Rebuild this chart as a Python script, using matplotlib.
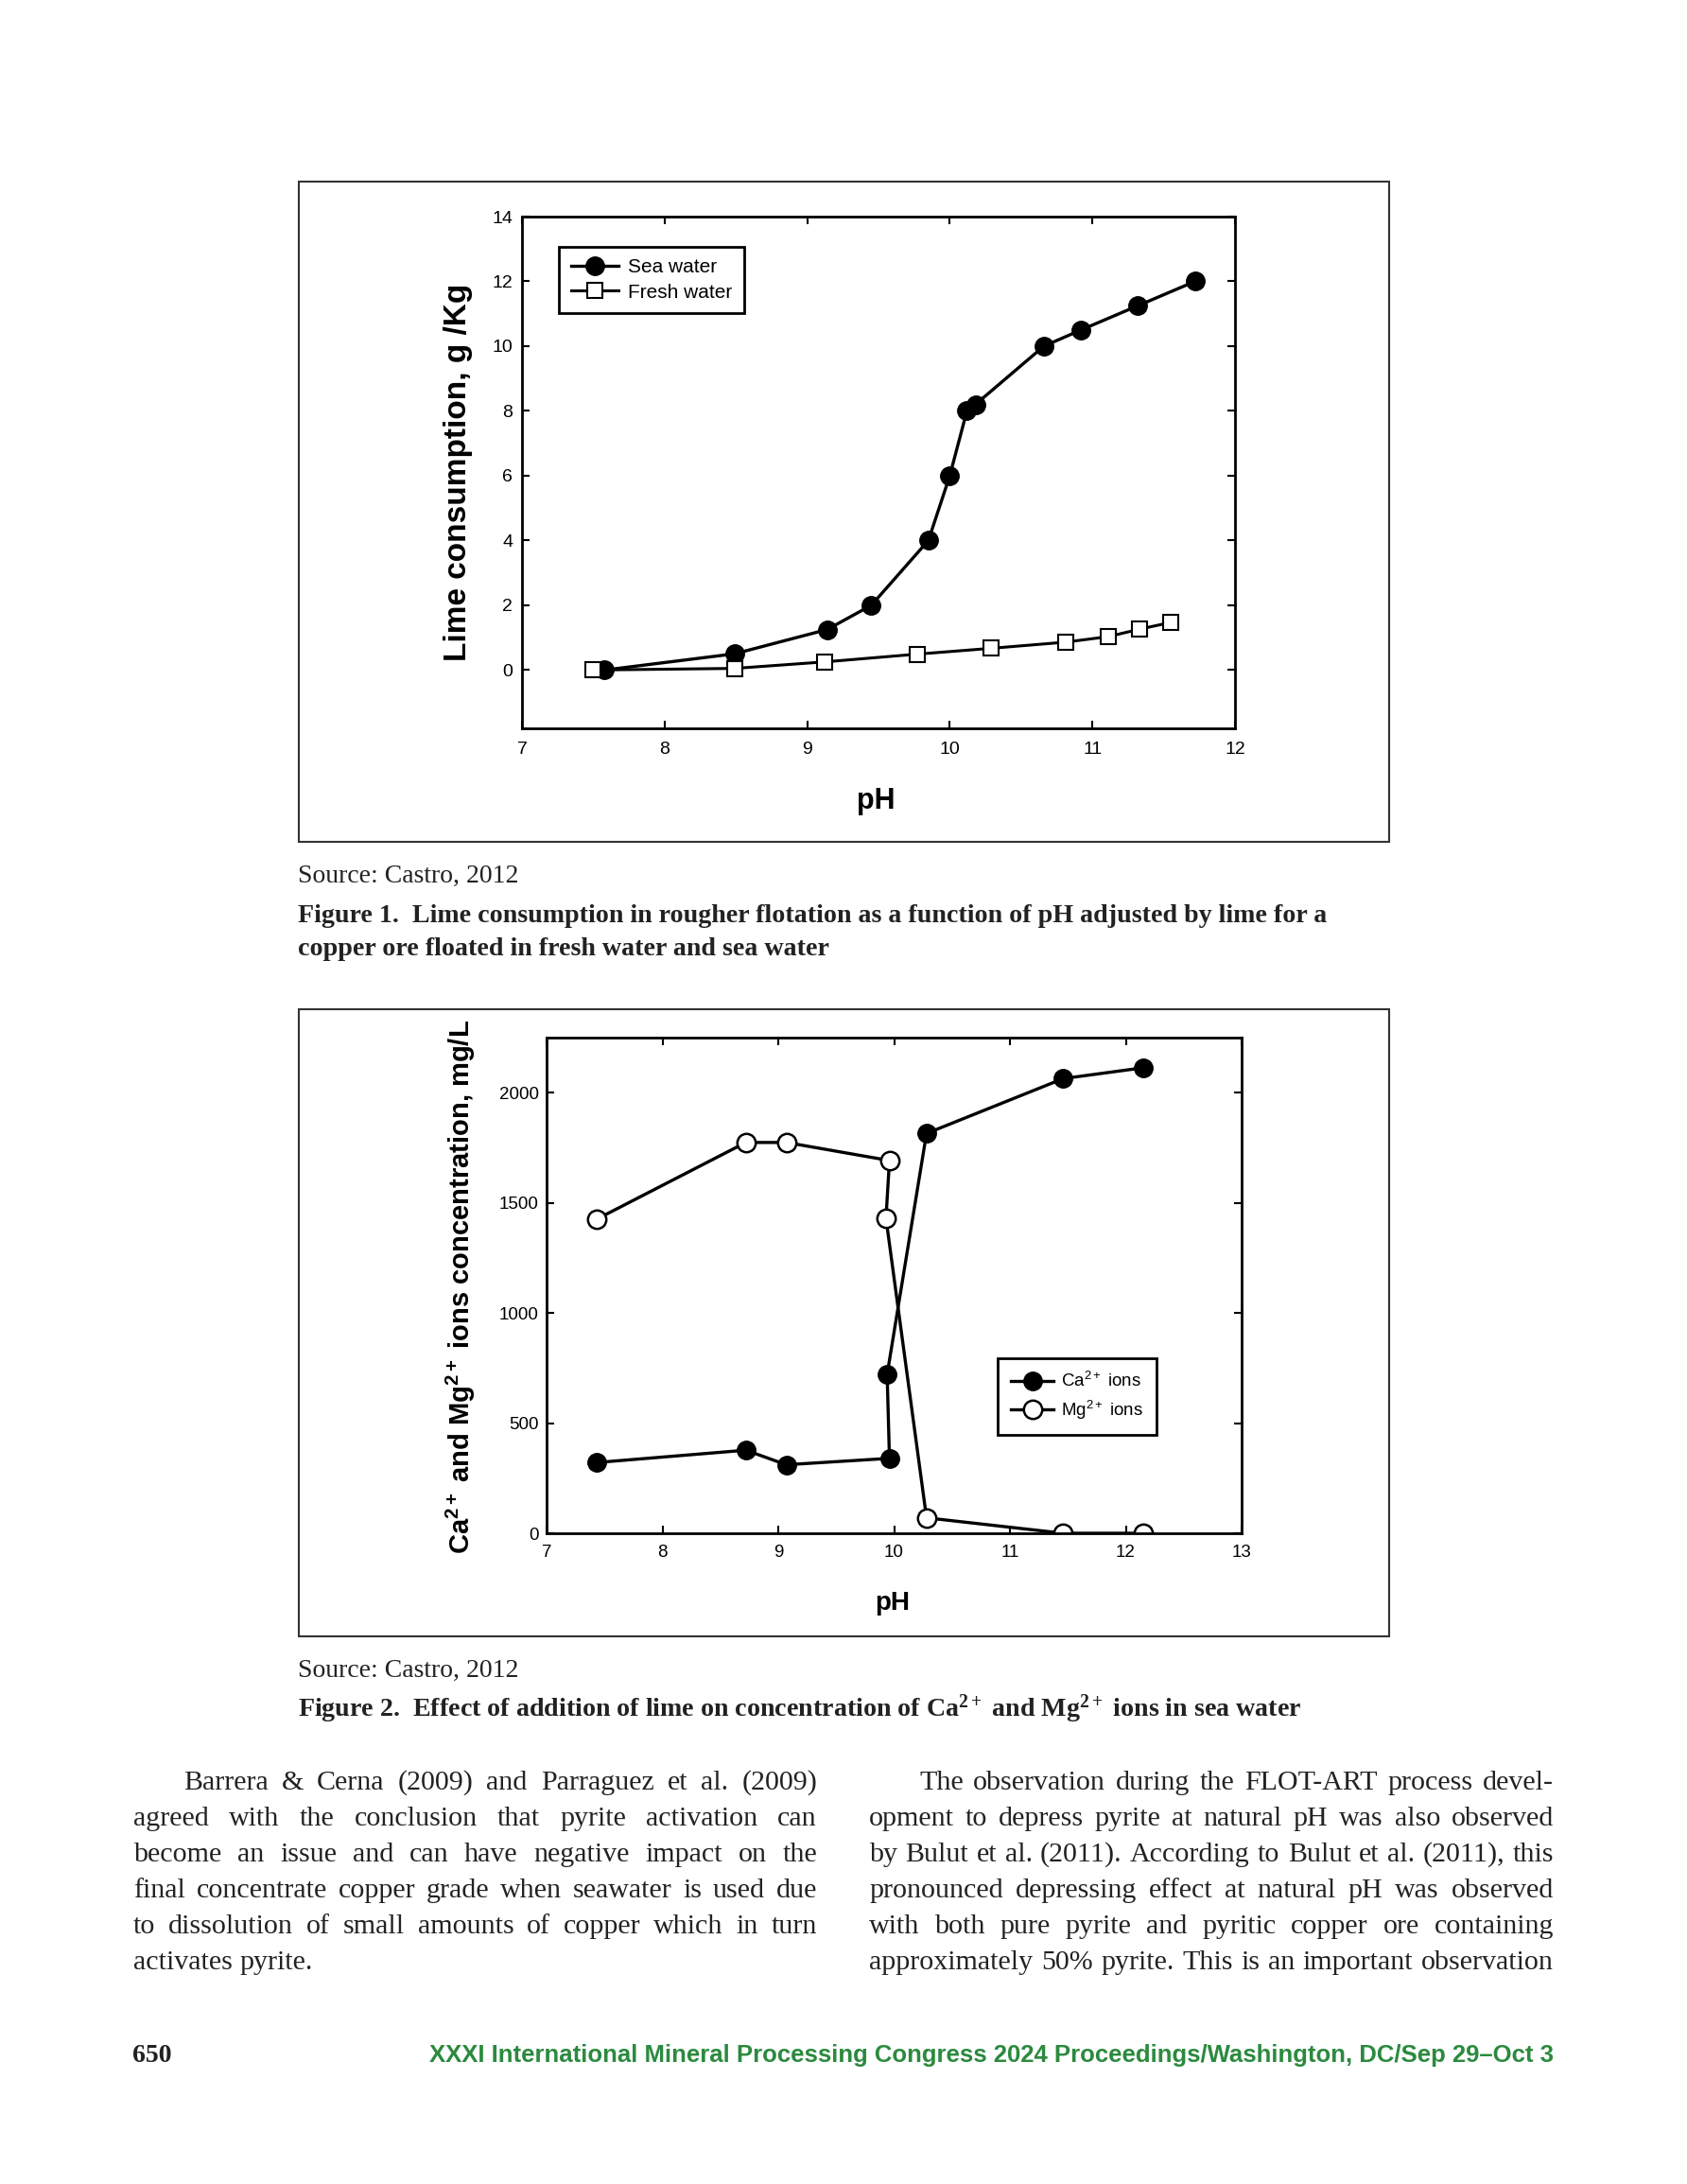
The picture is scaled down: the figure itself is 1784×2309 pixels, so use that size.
import matplotlib
matplotlib.use("Agg")
from matplotlib import pyplot as plt
from matplotlib.patches import Rectangle

# figure 1 data
sea_ph = [7.58, 8.49, 9.14, 9.45, 9.85, 10.0, 10.12, 10.18, 10.66, 10.92, 11.32, 11.72]
sea_lime = [0.0, 0.5, 1.25, 2.0, 4.0, 6.0, 8.0, 8.2, 10.0, 10.5, 11.25, 12.0]
fresh_ph = [7.5, 8.49, 9.12, 9.77, 10.29, 10.81, 11.11, 11.33, 11.55]
fresh_lime = [0.0, 0.05, 0.25, 0.49, 0.67, 0.86, 1.03, 1.26, 1.47]

# figure 2 data
ca_ph = [7.43, 8.72, 9.07, 9.96, 9.94, 10.28, 11.46, 12.15]
ca_conc = [321, 377, 311, 340, 721, 1815, 2064, 2113]
mg_ph = [7.43, 8.72, 9.07, 9.96, 9.93, 10.28, 11.46, 12.15]
mg_conc = [1425, 1774, 1774, 1692, 1430, 70, 0, 0]

src_text = "Source: Castro, 2012"
cap1 = ["Figure 1.  Lime consumption in rougher flotation as a function of pH adjusted by lime for a",
        "copper ore floated in fresh water and sea water"]
cap2 = r"Figure 2.  Effect of addition of lime on concentration of Ca$\mathbf{^{2+}}$ and Mg$\mathbf{^{2+}}$ ions in sea water"
left_col = ["Barrera & Cerna (2009) and Parraguez et al. (2009)",
            "agreed with the conclusion that pyrite activation can",
            "become an issue and can have negative impact on the",
            "final concentrate copper grade when seawater is used due",
            "to dissolution of small amounts of copper which in turn",
            "activates pyrite."]
right_col = ["The observation during the FLOT-ART process devel-",
             "opment to depress pyrite at natural pH was also observed",
             "by Bulut et al. (2011). According to Bulut et al. (2011), this",
             "pronounced depressing effect at natural pH was observed",
             "with both pure pyrite and pyritic copper ore containing",
             "approximately 50% pyrite. This is an important observation"]
footer = "XXXI International Mineral Processing Congress 2024 Proceedings/Washington, DC/Sep 29\u2013Oct 3"

W, H = 1784, 2309
SERIF = "Liberation Serif"
SANS = "Liberation Sans"
INK = "#222222"

plt.rcParams["font.family"] = SANS
plt.rcParams["mathtext.fontset"] = "custom"
plt.rcParams["mathtext.rm"] = SANS
plt.rcParams["mathtext.it"] = SANS
plt.rcParams["mathtext.bf"] = "Liberation Serif:bold"
plt.rcParams["mathtext.sf"] = "Liberation Sans:bold"

fig = plt.figure(figsize=(W / 100, H / 100), dpi=100)
renderer = fig.canvas.get_renderer()


def fx(x):
    return x / W


def fy(y):
    return 1 - y / H


def text_width(s, **kw):
    t = fig.text(0, 0, s, **kw)
    w = t.get_window_extent(renderer).width
    t.remove()
    return w


def put(x, y, s, **kw):
    return fig.text(fx(x), fy(y), s, va="baseline", **kw)


def justify(line, x0, x1, y, last=False, **kw):
    words = line.split()
    widths = [text_width(w, **kw) for w in words]
    if last or len(words) == 1:
        gap = text_width("a a", **kw) - text_width("aa", **kw)
    else:
        gap = (x1 - x0 - sum(widths)) / (len(words) - 1)
    x = x0
    for w, wd in zip(words, widths):
        put(x, y, w, ha="left", **kw)
        x += wd + gap


def frame(x0, y0, x1, y1):
    fig.add_artist(Rectangle((fx(x0), fy(y1)), (x1 - x0) / W, (y1 - y0) / H,
                             transform=fig.transFigure, fill=False,
                             lw=1.5, ec="#333333"))


# caption size fitted to the first caption line
capkw = dict(family=SERIF, fontweight="bold", color=INK)
capsize = 19 * 1089 / text_width(cap1[0], fontsize=19, **capkw)
capkw["fontsize"] = capsize

# ---- figure 1 ----
frame(316, 192, 1469, 890)
ax1 = fig.add_axes([fx(552), fy(770), (1306 - 552) / W, (770 - 229) / H])
ax1.plot(sea_ph, sea_lime, "k-", lw=2.4, marker="o", ms=14, mfc="black",
         mec="black", label="Sea water")
ax1.plot(fresh_ph, fresh_lime, "k-", lw=2.2, marker="s", ms=11, mfc="white",
         mec="black", mew=1.5, label="Fresh water")
ax1.set_xlim(7, 12)
ax1.set_ylim(-1.8, 14)
ax1.set_xticks(range(7, 13))
ax1.set_yticks(range(0, 15, 2))
ax1.tick_params(direction="in", top=True, right=True, length=6, width=1.5,
                labelsize=14)
ax1.tick_params(axis="x", pad=10)
ax1.tick_params(axis="y", pad=7)
for sp in ax1.spines.values():
    sp.set_linewidth(2)
ax1.set_ylabel("Lime consumption, g /Kg", fontsize=24, fontweight="bold")
ax1.yaxis.set_label_coords(-0.069, 0.5)
ax1.set_xlabel("pH", fontsize=22, fontweight="bold")
ax1.xaxis.set_label_coords(0.497, -0.115)
leg1 = ax1.legend(loc="upper left", bbox_to_anchor=(0.052, 0.941),
                  borderaxespad=0, fancybox=False, edgecolor="black",
                  fontsize=15, handlelength=2.4, handletextpad=0.5,
                  labelspacing=0.35, borderpad=0.6, framealpha=1)
leg1.get_frame().set_linewidth(2)

put(315, 933, src_text, fontsize=20, family=SERIF, color=INK)
put(315, 975, cap1[0], **capkw)
put(315, 1010, cap1[1], **capkw)

# ---- figure 2 ----
frame(316, 1067, 1469, 1730)
ax2 = fig.add_axes([fx(578), fy(1621), (1313 - 578) / W, (1621 - 1097) / H])
ax2.plot(ca_ph, ca_conc, "k-", lw=2.4, marker="o", ms=14, mfc="black",
         mec="black", label=r"Ca$^{2+}$ ions")
ax2.plot(mg_ph, mg_conc, "k-", lw=2.4, marker="o", ms=14, mfc="white",
         mec="black", mew=1.8, label=r"Mg$^{2+}$ ions")
ax2.set_xlim(7, 13)
ax2.set_ylim(0, 2250)
ax2.set_xticks(range(7, 14))
ax2.set_yticks(range(0, 2001, 500))
ax2.tick_params(direction="in", top=True, right=True, length=6, width=1.5,
                labelsize=13.5)
ax2.tick_params(axis="x", pad=9)
ax2.tick_params(axis="y", pad=6)
for sp in ax2.spines.values():
    sp.set_linewidth(2)
ax2.set_ylabel(r"Ca$\mathsf{^{2+}}$ and Mg$\mathsf{^{2+}}$ ions concentration, mg/L",
               fontsize=21, fontweight="bold")
ax2.yaxis.set_label_coords(-0.099, 0.498)
ax2.set_xlabel("pH", fontsize=20, fontweight="bold")
ax2.xaxis.set_label_coords(0.497, -0.116)
leg2 = ax2.legend(loc="upper left", bbox_to_anchor=(0.649, 0.353),
                  borderaxespad=0, fancybox=False, edgecolor="black",
                  fontsize=13.5, handlelength=2.4, handletextpad=0.4,
                  labelspacing=0.45, borderpad=0.75, framealpha=1)
leg2.get_frame().set_linewidth(2)

put(315, 1773, src_text, fontsize=20, family=SERIF, color=INK)
put(315, 1815, cap2, **capkw)

# ---- body text ----
body = dict(family=SERIF, color=INK)
size = 20.0
widest = 0
for ln in left_col[:-1]:
    widest = max(widest, text_width(ln, fontsize=size, **body) / 723)
for ln in right_col:
    widest = max(widest, text_width(ln, fontsize=size, **body) / 724)
body["fontsize"] = size * 0.99 / widest

for i, ln in enumerate(left_col):
    x0 = 194 if i == 0 else 141
    justify(ln, x0, 864, 1892 + 38 * i, last=(i == len(left_col) - 1), **body)
for i, ln in enumerate(right_col):
    x0 = 972 if i == 0 else 919
    justify(ln, x0, 1643, 1892 + 38 * i, **body)

# ---- footer ----
put(140, 2180, "650", fontsize=20, family=SERIF, fontweight="bold", color=INK)
fsize = 18.0
fw = text_width(footer, fontsize=fsize, fontweight="bold", family=SANS)
fsize = fsize * 1191 / fw
put(1643, 2180, footer, ha="right", fontsize=fsize, fontweight="bold",
    family=SANS, color="#2b8a3e")

fig.savefig("out.png", dpi=100)
